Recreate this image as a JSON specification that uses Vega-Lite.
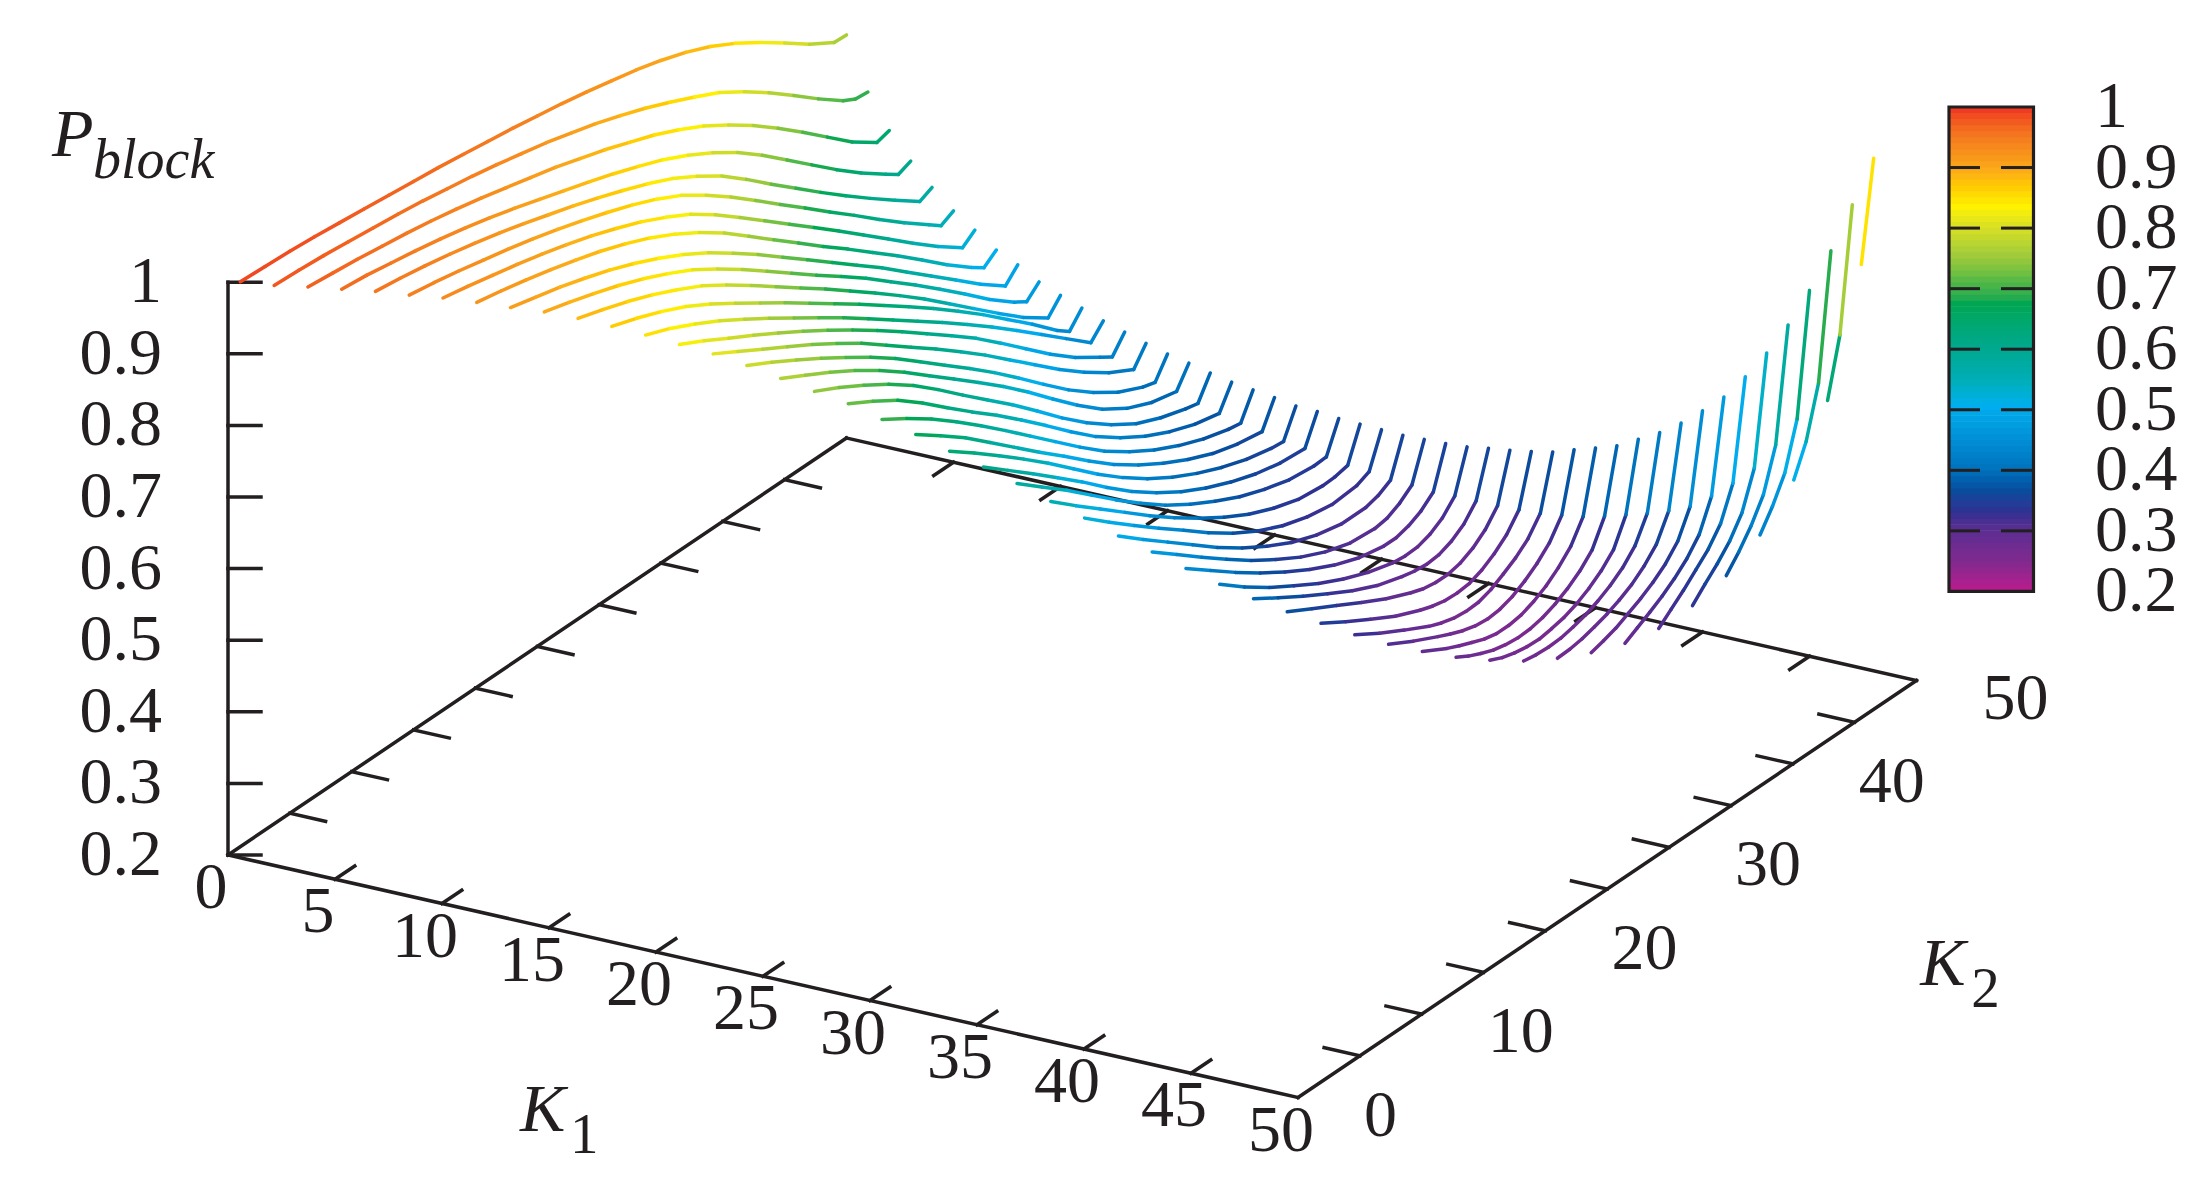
{"$schema":"https://vega.github.io/schema/vega-lite/v6.json","width":2212,"height":1201,"padding":0,"autosize":{"type":"fit","contains":"padding"},"background":"white","config":{"view":{"stroke":null},"text":{"font":"Liberation Serif","color":"#231f20"}},
"datasets":{
"surface":[
{"k1":0,"k2":1,"p":0.989},{"k1":0,"k2":3,"p":0.987},{"k1":0,"k2":5,"p":0.985},{"k1":0,"k2":7,"p":0.982},{"k1":0,"k2":9,"p":0.978},{"k1":0,"k2":11,"p":0.974},{"k1":0,"k2":13,"p":0.97},{"k1":0,"k2":15,"p":0.966},{"k1":0,"k2":17,"p":0.962},{"k1":0,"k2":19,"p":0.957},{"k1":0,"k2":21,"p":0.952},{"k1":0,"k2":23,"p":0.947},{"k1":0,"k2":25,"p":0.941},{"k1":0,"k2":27,"p":0.935},{"k1":0,"k2":29,"p":0.928},{"k1":0,"k2":31,"p":0.92},{"k1":0,"k2":33,"p":0.912},{"k1":0,"k2":35,"p":0.902},{"k1":0,"k2":37,"p":0.89},{"k1":0,"k2":39,"p":0.875},{"k1":0,"k2":41,"p":0.856},{"k1":0,"k2":43,"p":0.834},{"k1":0,"k2":45,"p":0.81},{"k1":0,"k2":47,"p":0.785},{"k1":0,"k2":49,"p":0.764},{"k1":0,"k2":50,"p":0.763},
{"k1":1,"k2":2,"p":0.979},{"k1":1,"k2":4,"p":0.977},{"k1":1,"k2":6,"p":0.974},{"k1":1,"k2":8,"p":0.97},{"k1":1,"k2":10,"p":0.966},{"k1":1,"k2":12,"p":0.962},{"k1":1,"k2":14,"p":0.957},{"k1":1,"k2":16,"p":0.951},{"k1":1,"k2":18,"p":0.945},{"k1":1,"k2":20,"p":0.938},{"k1":1,"k2":22,"p":0.93},{"k1":1,"k2":24,"p":0.922},{"k1":1,"k2":26,"p":0.912},{"k1":1,"k2":28,"p":0.902},{"k1":1,"k2":30,"p":0.89},{"k1":1,"k2":32,"p":0.877},{"k1":1,"k2":34,"p":0.862},{"k1":1,"k2":36,"p":0.846},{"k1":1,"k2":38,"p":0.829},{"k1":1,"k2":40,"p":0.807},{"k1":1,"k2":42,"p":0.782},{"k1":1,"k2":44,"p":0.755},{"k1":1,"k2":46,"p":0.727},{"k1":1,"k2":48,"p":0.701},{"k1":1,"k2":49,"p":0.692},{"k1":1,"k2":50,"p":0.69},
{"k1":2,"k2":3,"p":0.972},{"k1":2,"k2":5,"p":0.968},{"k1":2,"k2":7,"p":0.964},{"k1":2,"k2":9,"p":0.959},{"k1":2,"k2":11,"p":0.954},{"k1":2,"k2":13,"p":0.948},{"k1":2,"k2":15,"p":0.941},{"k1":2,"k2":17,"p":0.933},{"k1":2,"k2":19,"p":0.924},{"k1":2,"k2":21,"p":0.915},{"k1":2,"k2":23,"p":0.906},{"k1":2,"k2":25,"p":0.895},{"k1":2,"k2":27,"p":0.884},{"k1":2,"k2":29,"p":0.871},{"k1":2,"k2":31,"p":0.858},{"k1":2,"k2":33,"p":0.842},{"k1":2,"k2":35,"p":0.824},{"k1":2,"k2":37,"p":0.802},{"k1":2,"k2":39,"p":0.778},{"k1":2,"k2":41,"p":0.751},{"k1":2,"k2":43,"p":0.722},{"k1":2,"k2":45,"p":0.692},{"k1":2,"k2":47,"p":0.662},{"k1":2,"k2":49,"p":0.638},{"k1":2,"k2":50,"p":0.643},
{"k1":3,"k2":4,"p":0.964},{"k1":3,"k2":6,"p":0.96},{"k1":3,"k2":8,"p":0.954},{"k1":3,"k2":10,"p":0.948},{"k1":3,"k2":12,"p":0.941},{"k1":3,"k2":14,"p":0.933},{"k1":3,"k2":16,"p":0.924},{"k1":3,"k2":18,"p":0.914},{"k1":3,"k2":20,"p":0.903},{"k1":3,"k2":22,"p":0.892},{"k1":3,"k2":24,"p":0.881},{"k1":3,"k2":26,"p":0.869},{"k1":3,"k2":28,"p":0.856},{"k1":3,"k2":30,"p":0.842},{"k1":3,"k2":32,"p":0.825},{"k1":3,"k2":34,"p":0.805},{"k1":3,"k2":36,"p":0.782},{"k1":3,"k2":38,"p":0.755},{"k1":3,"k2":40,"p":0.725},{"k1":3,"k2":42,"p":0.695},{"k1":3,"k2":44,"p":0.665},{"k1":3,"k2":46,"p":0.637},{"k1":3,"k2":48,"p":0.612},{"k1":3,"k2":49,"p":0.6},{"k1":3,"k2":50,"p":0.607},
{"k1":4,"k2":5,"p":0.956},{"k1":4,"k2":7,"p":0.951},{"k1":4,"k2":9,"p":0.945},{"k1":4,"k2":11,"p":0.938},{"k1":4,"k2":13,"p":0.93},{"k1":4,"k2":15,"p":0.921},{"k1":4,"k2":17,"p":0.911},{"k1":4,"k2":19,"p":0.9},{"k1":4,"k2":21,"p":0.889},{"k1":4,"k2":23,"p":0.877},{"k1":4,"k2":25,"p":0.864},{"k1":4,"k2":27,"p":0.85},{"k1":4,"k2":29,"p":0.834},{"k1":4,"k2":31,"p":0.814},{"k1":4,"k2":33,"p":0.791},{"k1":4,"k2":35,"p":0.763},{"k1":4,"k2":37,"p":0.733},{"k1":4,"k2":39,"p":0.704},{"k1":4,"k2":41,"p":0.675},{"k1":4,"k2":43,"p":0.647},{"k1":4,"k2":45,"p":0.62},{"k1":4,"k2":47,"p":0.594},{"k1":4,"k2":49,"p":0.569},{"k1":4,"k2":50,"p":0.577},
{"k1":5,"k2":6,"p":0.946},{"k1":5,"k2":8,"p":0.94},{"k1":5,"k2":10,"p":0.933},{"k1":5,"k2":12,"p":0.925},{"k1":5,"k2":14,"p":0.917},{"k1":5,"k2":16,"p":0.908},{"k1":5,"k2":18,"p":0.898},{"k1":5,"k2":20,"p":0.887},{"k1":5,"k2":22,"p":0.875},{"k1":5,"k2":24,"p":0.862},{"k1":5,"k2":26,"p":0.847},{"k1":5,"k2":28,"p":0.829},{"k1":5,"k2":30,"p":0.806},{"k1":5,"k2":32,"p":0.78},{"k1":5,"k2":34,"p":0.752},{"k1":5,"k2":36,"p":0.723},{"k1":5,"k2":38,"p":0.695},{"k1":5,"k2":40,"p":0.666},{"k1":5,"k2":42,"p":0.638},{"k1":5,"k2":44,"p":0.609},{"k1":5,"k2":46,"p":0.581},{"k1":5,"k2":48,"p":0.555},{"k1":5,"k2":49,"p":0.542},{"k1":5,"k2":50,"p":0.551},
{"k1":6,"k2":7,"p":0.937},{"k1":6,"k2":9,"p":0.93},{"k1":6,"k2":11,"p":0.922},{"k1":6,"k2":13,"p":0.914},{"k1":6,"k2":15,"p":0.905},{"k1":6,"k2":17,"p":0.895},{"k1":6,"k2":19,"p":0.884},{"k1":6,"k2":21,"p":0.871},{"k1":6,"k2":23,"p":0.857},{"k1":6,"k2":25,"p":0.84},{"k1":6,"k2":27,"p":0.821},{"k1":6,"k2":29,"p":0.797},{"k1":6,"k2":31,"p":0.77},{"k1":6,"k2":33,"p":0.742},{"k1":6,"k2":35,"p":0.714},{"k1":6,"k2":37,"p":0.686},{"k1":6,"k2":39,"p":0.658},{"k1":6,"k2":41,"p":0.629},{"k1":6,"k2":43,"p":0.6},{"k1":6,"k2":45,"p":0.571},{"k1":6,"k2":47,"p":0.543},{"k1":6,"k2":49,"p":0.518},{"k1":6,"k2":50,"p":0.531},
{"k1":7,"k2":8,"p":0.926},{"k1":7,"k2":10,"p":0.919},{"k1":7,"k2":12,"p":0.911},{"k1":7,"k2":14,"p":0.902},{"k1":7,"k2":16,"p":0.892},{"k1":7,"k2":18,"p":0.881},{"k1":7,"k2":20,"p":0.868},{"k1":7,"k2":22,"p":0.853},{"k1":7,"k2":24,"p":0.835},{"k1":7,"k2":26,"p":0.814},{"k1":7,"k2":28,"p":0.79},{"k1":7,"k2":30,"p":0.762},{"k1":7,"k2":32,"p":0.734},{"k1":7,"k2":34,"p":0.706},{"k1":7,"k2":36,"p":0.678},{"k1":7,"k2":38,"p":0.651},{"k1":7,"k2":40,"p":0.623},{"k1":7,"k2":42,"p":0.595},{"k1":7,"k2":44,"p":0.566},{"k1":7,"k2":46,"p":0.536},{"k1":7,"k2":48,"p":0.509},{"k1":7,"k2":49,"p":0.497},{"k1":7,"k2":50,"p":0.51},
{"k1":8,"k2":9,"p":0.914},{"k1":8,"k2":11,"p":0.905},{"k1":8,"k2":13,"p":0.896},{"k1":8,"k2":15,"p":0.885},{"k1":8,"k2":17,"p":0.873},{"k1":8,"k2":19,"p":0.859},{"k1":8,"k2":21,"p":0.843},{"k1":8,"k2":23,"p":0.825},{"k1":8,"k2":25,"p":0.804},{"k1":8,"k2":27,"p":0.78},{"k1":8,"k2":29,"p":0.755},{"k1":8,"k2":31,"p":0.728},{"k1":8,"k2":33,"p":0.701},{"k1":8,"k2":35,"p":0.674},{"k1":8,"k2":37,"p":0.647},{"k1":8,"k2":39,"p":0.62},{"k1":8,"k2":41,"p":0.591},{"k1":8,"k2":43,"p":0.562},{"k1":8,"k2":45,"p":0.533},{"k1":8,"k2":47,"p":0.504},{"k1":8,"k2":49,"p":0.478},{"k1":8,"k2":50,"p":0.496},
{"k1":9,"k2":10,"p":0.903},{"k1":9,"k2":12,"p":0.893},{"k1":9,"k2":14,"p":0.882},{"k1":9,"k2":16,"p":0.87},{"k1":9,"k2":18,"p":0.856},{"k1":9,"k2":20,"p":0.84},{"k1":9,"k2":22,"p":0.822},{"k1":9,"k2":24,"p":0.8},{"k1":9,"k2":26,"p":0.776},{"k1":9,"k2":28,"p":0.75},{"k1":9,"k2":30,"p":0.724},{"k1":9,"k2":32,"p":0.698},{"k1":9,"k2":34,"p":0.673},{"k1":9,"k2":36,"p":0.647},{"k1":9,"k2":38,"p":0.619},{"k1":9,"k2":40,"p":0.591},{"k1":9,"k2":42,"p":0.562},{"k1":9,"k2":44,"p":0.532},{"k1":9,"k2":46,"p":0.501},{"k1":9,"k2":48,"p":0.474},{"k1":9,"k2":49,"p":0.463},{"k1":9,"k2":50,"p":0.479},
{"k1":10,"k2":11,"p":0.889},{"k1":10,"k2":13,"p":0.878},{"k1":10,"k2":15,"p":0.866},{"k1":10,"k2":17,"p":0.852},{"k1":10,"k2":19,"p":0.836},{"k1":10,"k2":21,"p":0.818},{"k1":10,"k2":23,"p":0.796},{"k1":10,"k2":25,"p":0.772},{"k1":10,"k2":27,"p":0.747},{"k1":10,"k2":29,"p":0.722},{"k1":10,"k2":31,"p":0.697},{"k1":10,"k2":33,"p":0.671},{"k1":10,"k2":35,"p":0.645},{"k1":10,"k2":37,"p":0.618},{"k1":10,"k2":39,"p":0.59},{"k1":10,"k2":41,"p":0.56},{"k1":10,"k2":43,"p":0.53},{"k1":10,"k2":45,"p":0.5},{"k1":10,"k2":47,"p":0.471},{"k1":10,"k2":49,"p":0.447},{"k1":10,"k2":50,"p":0.467},
{"k1":11,"k2":12,"p":0.873},{"k1":11,"k2":14,"p":0.861},{"k1":11,"k2":16,"p":0.847},{"k1":11,"k2":18,"p":0.831},{"k1":11,"k2":20,"p":0.811},{"k1":11,"k2":22,"p":0.789},{"k1":11,"k2":24,"p":0.766},{"k1":11,"k2":26,"p":0.743},{"k1":11,"k2":28,"p":0.719},{"k1":11,"k2":30,"p":0.695},{"k1":11,"k2":32,"p":0.671},{"k1":11,"k2":34,"p":0.646},{"k1":11,"k2":36,"p":0.621},{"k1":11,"k2":38,"p":0.595},{"k1":11,"k2":40,"p":0.568},{"k1":11,"k2":42,"p":0.54},{"k1":11,"k2":44,"p":0.51},{"k1":11,"k2":46,"p":0.48},{"k1":11,"k2":48,"p":0.448},{"k1":11,"k2":49,"p":0.435},{"k1":11,"k2":50,"p":0.456},
{"k1":12,"k2":13,"p":0.856},{"k1":12,"k2":15,"p":0.842},{"k1":12,"k2":17,"p":0.825},{"k1":12,"k2":19,"p":0.806},{"k1":12,"k2":21,"p":0.785},{"k1":12,"k2":23,"p":0.763},{"k1":12,"k2":25,"p":0.74},{"k1":12,"k2":27,"p":0.717},{"k1":12,"k2":29,"p":0.694},{"k1":12,"k2":31,"p":0.669},{"k1":12,"k2":33,"p":0.644},{"k1":12,"k2":35,"p":0.619},{"k1":12,"k2":37,"p":0.594},{"k1":12,"k2":39,"p":0.568},{"k1":12,"k2":41,"p":0.541},{"k1":12,"k2":43,"p":0.513},{"k1":12,"k2":45,"p":0.484},{"k1":12,"k2":47,"p":0.455},{"k1":12,"k2":49,"p":0.426},{"k1":12,"k2":50,"p":0.445},
{"k1":13,"k2":14,"p":0.838},{"k1":13,"k2":16,"p":0.82},{"k1":13,"k2":18,"p":0.8},{"k1":13,"k2":20,"p":0.781},{"k1":13,"k2":22,"p":0.761},{"k1":13,"k2":24,"p":0.74},{"k1":13,"k2":26,"p":0.718},{"k1":13,"k2":28,"p":0.695},{"k1":13,"k2":30,"p":0.671},{"k1":13,"k2":32,"p":0.646},{"k1":13,"k2":34,"p":0.62},{"k1":13,"k2":36,"p":0.594},{"k1":13,"k2":38,"p":0.567},{"k1":13,"k2":40,"p":0.537},{"k1":13,"k2":42,"p":0.506},{"k1":13,"k2":44,"p":0.475},{"k1":13,"k2":46,"p":0.447},{"k1":13,"k2":48,"p":0.424},{"k1":13,"k2":49,"p":0.413},{"k1":13,"k2":50,"p":0.436},
{"k1":14,"k2":15,"p":0.82},{"k1":14,"k2":17,"p":0.8},{"k1":14,"k2":19,"p":0.78},{"k1":14,"k2":21,"p":0.76},{"k1":14,"k2":23,"p":0.74},{"k1":14,"k2":25,"p":0.718},{"k1":14,"k2":27,"p":0.695},{"k1":14,"k2":29,"p":0.669},{"k1":14,"k2":31,"p":0.643},{"k1":14,"k2":33,"p":0.617},{"k1":14,"k2":35,"p":0.59},{"k1":14,"k2":37,"p":0.562},{"k1":14,"k2":39,"p":0.532},{"k1":14,"k2":41,"p":0.502},{"k1":14,"k2":43,"p":0.472},{"k1":14,"k2":45,"p":0.445},{"k1":14,"k2":47,"p":0.421},{"k1":14,"k2":49,"p":0.402},{"k1":14,"k2":50,"p":0.427},
{"k1":15,"k2":16,"p":0.799},{"k1":15,"k2":18,"p":0.78},{"k1":15,"k2":20,"p":0.76},{"k1":15,"k2":22,"p":0.739},{"k1":15,"k2":24,"p":0.717},{"k1":15,"k2":26,"p":0.694},{"k1":15,"k2":28,"p":0.669},{"k1":15,"k2":30,"p":0.641},{"k1":15,"k2":32,"p":0.613},{"k1":15,"k2":34,"p":0.585},{"k1":15,"k2":36,"p":0.556},{"k1":15,"k2":38,"p":0.525},{"k1":15,"k2":40,"p":0.493},{"k1":15,"k2":42,"p":0.462},{"k1":15,"k2":44,"p":0.435},{"k1":15,"k2":46,"p":0.412},{"k1":15,"k2":48,"p":0.396},{"k1":15,"k2":49,"p":0.391},{"k1":15,"k2":50,"p":0.419},
{"k1":16,"k2":17,"p":0.776},{"k1":16,"k2":19,"p":0.757},{"k1":16,"k2":21,"p":0.738},{"k1":16,"k2":23,"p":0.717},{"k1":16,"k2":25,"p":0.694},{"k1":16,"k2":27,"p":0.668},{"k1":16,"k2":29,"p":0.64},{"k1":16,"k2":31,"p":0.612},{"k1":16,"k2":33,"p":0.584},{"k1":16,"k2":35,"p":0.555},{"k1":16,"k2":37,"p":0.524},{"k1":16,"k2":39,"p":0.491},{"k1":16,"k2":41,"p":0.459},{"k1":16,"k2":43,"p":0.43},{"k1":16,"k2":45,"p":0.408},{"k1":16,"k2":47,"p":0.393},{"k1":16,"k2":49,"p":0.385},{"k1":16,"k2":50,"p":0.413},
{"k1":17,"k2":18,"p":0.753},{"k1":17,"k2":20,"p":0.735},{"k1":17,"k2":22,"p":0.715},{"k1":17,"k2":24,"p":0.693},{"k1":17,"k2":26,"p":0.668},{"k1":17,"k2":28,"p":0.639},{"k1":17,"k2":30,"p":0.608},{"k1":17,"k2":32,"p":0.578},{"k1":17,"k2":34,"p":0.548},{"k1":17,"k2":36,"p":0.516},{"k1":17,"k2":38,"p":0.483},{"k1":17,"k2":40,"p":0.453},{"k1":17,"k2":42,"p":0.427},{"k1":17,"k2":44,"p":0.405},{"k1":17,"k2":46,"p":0.39},{"k1":17,"k2":48,"p":0.379},{"k1":17,"k2":49,"p":0.375},{"k1":17,"k2":50,"p":0.406},
{"k1":18,"k2":19,"p":0.731},{"k1":18,"k2":21,"p":0.711},{"k1":18,"k2":23,"p":0.689},{"k1":18,"k2":25,"p":0.662},{"k1":18,"k2":27,"p":0.632},{"k1":18,"k2":29,"p":0.603},{"k1":18,"k2":31,"p":0.575},{"k1":18,"k2":33,"p":0.545},{"k1":18,"k2":35,"p":0.514},{"k1":18,"k2":37,"p":0.482},{"k1":18,"k2":39,"p":0.452},{"k1":18,"k2":41,"p":0.427},{"k1":18,"k2":43,"p":0.406},{"k1":18,"k2":45,"p":0.389},{"k1":18,"k2":47,"p":0.376},{"k1":18,"k2":49,"p":0.368},{"k1":18,"k2":50,"p":0.4},
{"k1":19,"k2":20,"p":0.704},{"k1":19,"k2":22,"p":0.682},{"k1":19,"k2":24,"p":0.658},{"k1":19,"k2":26,"p":0.631},{"k1":19,"k2":28,"p":0.602},{"k1":19,"k2":30,"p":0.572},{"k1":19,"k2":32,"p":0.541},{"k1":19,"k2":34,"p":0.51},{"k1":19,"k2":36,"p":0.479},{"k1":19,"k2":38,"p":0.45},{"k1":19,"k2":40,"p":0.426},{"k1":19,"k2":42,"p":0.405},{"k1":19,"k2":44,"p":0.388},{"k1":19,"k2":46,"p":0.374},{"k1":19,"k2":48,"p":0.364},{"k1":19,"k2":49,"p":0.361},{"k1":19,"k2":50,"p":0.396},
{"k1":20,"k2":21,"p":0.678},{"k1":20,"k2":23,"p":0.653},{"k1":20,"k2":25,"p":0.627},{"k1":20,"k2":27,"p":0.597},{"k1":20,"k2":29,"p":0.567},{"k1":20,"k2":31,"p":0.537},{"k1":20,"k2":33,"p":0.508},{"k1":20,"k2":35,"p":0.478},{"k1":20,"k2":37,"p":0.45},{"k1":20,"k2":39,"p":0.426},{"k1":20,"k2":41,"p":0.405},{"k1":20,"k2":43,"p":0.387},{"k1":20,"k2":45,"p":0.372},{"k1":20,"k2":47,"p":0.362},{"k1":20,"k2":49,"p":0.356},{"k1":20,"k2":50,"p":0.392},
{"k1":21,"k2":22,"p":0.65},{"k1":21,"k2":24,"p":0.624},{"k1":21,"k2":26,"p":0.597},{"k1":21,"k2":28,"p":0.569},{"k1":21,"k2":30,"p":0.54},{"k1":21,"k2":32,"p":0.509},{"k1":21,"k2":34,"p":0.478},{"k1":21,"k2":36,"p":0.45},{"k1":21,"k2":38,"p":0.425},{"k1":21,"k2":40,"p":0.404},{"k1":21,"k2":42,"p":0.386},{"k1":21,"k2":44,"p":0.371},{"k1":21,"k2":46,"p":0.359},{"k1":21,"k2":48,"p":0.351},{"k1":21,"k2":49,"p":0.349},{"k1":21,"k2":50,"p":0.387},
{"k1":22,"k2":23,"p":0.623},{"k1":22,"k2":25,"p":0.595},{"k1":22,"k2":27,"p":0.567},{"k1":22,"k2":29,"p":0.538},{"k1":22,"k2":31,"p":0.509},{"k1":22,"k2":33,"p":0.478},{"k1":22,"k2":35,"p":0.449},{"k1":22,"k2":37,"p":0.424},{"k1":22,"k2":39,"p":0.402},{"k1":22,"k2":41,"p":0.384},{"k1":22,"k2":43,"p":0.369},{"k1":22,"k2":45,"p":0.357},{"k1":22,"k2":47,"p":0.349},{"k1":22,"k2":49,"p":0.346},{"k1":22,"k2":50,"p":0.386},
{"k1":23,"k2":24,"p":0.595},{"k1":23,"k2":26,"p":0.567},{"k1":23,"k2":28,"p":0.539},{"k1":23,"k2":30,"p":0.509},{"k1":23,"k2":32,"p":0.479},{"k1":23,"k2":34,"p":0.451},{"k1":23,"k2":36,"p":0.425},{"k1":23,"k2":38,"p":0.403},{"k1":23,"k2":40,"p":0.384},{"k1":23,"k2":42,"p":0.367},{"k1":23,"k2":44,"p":0.354},{"k1":23,"k2":46,"p":0.344},{"k1":23,"k2":48,"p":0.34},{"k1":23,"k2":49,"p":0.341},{"k1":23,"k2":50,"p":0.383},
{"k1":24,"k2":25,"p":0.565},{"k1":24,"k2":27,"p":0.536},{"k1":24,"k2":29,"p":0.508},{"k1":24,"k2":31,"p":0.48},{"k1":24,"k2":33,"p":0.452},{"k1":24,"k2":35,"p":0.426},{"k1":24,"k2":37,"p":0.402},{"k1":24,"k2":39,"p":0.38},{"k1":24,"k2":41,"p":0.361},{"k1":24,"k2":43,"p":0.346},{"k1":24,"k2":45,"p":0.335},{"k1":24,"k2":47,"p":0.331},{"k1":24,"k2":48,"p":0.332},{"k1":24,"k2":49,"p":0.336},{"k1":24,"k2":50,"p":0.382},
{"k1":25,"k2":26,"p":0.537},{"k1":25,"k2":28,"p":0.508},{"k1":25,"k2":30,"p":0.48},{"k1":25,"k2":32,"p":0.453},{"k1":25,"k2":34,"p":0.427},{"k1":25,"k2":36,"p":0.4},{"k1":25,"k2":38,"p":0.376},{"k1":25,"k2":40,"p":0.356},{"k1":25,"k2":42,"p":0.34},{"k1":25,"k2":44,"p":0.329},{"k1":25,"k2":46,"p":0.323},{"k1":25,"k2":48,"p":0.326},{"k1":25,"k2":49,"p":0.334},{"k1":25,"k2":50,"p":0.381},
{"k1":26,"k2":27,"p":0.507},{"k1":26,"k2":29,"p":0.479},{"k1":26,"k2":31,"p":0.452},{"k1":26,"k2":33,"p":0.425},{"k1":26,"k2":35,"p":0.398},{"k1":26,"k2":37,"p":0.374},{"k1":26,"k2":39,"p":0.353},{"k1":26,"k2":41,"p":0.335},{"k1":26,"k2":43,"p":0.322},{"k1":26,"k2":45,"p":0.314},{"k1":26,"k2":47,"p":0.314},{"k1":26,"k2":48,"p":0.319},{"k1":26,"k2":49,"p":0.329},{"k1":26,"k2":50,"p":0.38},
{"k1":27,"k2":28,"p":0.48},{"k1":27,"k2":30,"p":0.453},{"k1":27,"k2":32,"p":0.426},{"k1":27,"k2":34,"p":0.4},{"k1":27,"k2":36,"p":0.375},{"k1":27,"k2":38,"p":0.353},{"k1":27,"k2":40,"p":0.333},{"k1":27,"k2":42,"p":0.317},{"k1":27,"k2":44,"p":0.306},{"k1":27,"k2":46,"p":0.303},{"k1":27,"k2":47,"p":0.306},{"k1":27,"k2":48,"p":0.315},{"k1":27,"k2":49,"p":0.329},{"k1":27,"k2":50,"p":0.381},
{"k1":28,"k2":29,"p":0.452},{"k1":28,"k2":31,"p":0.426},{"k1":28,"k2":33,"p":0.4},{"k1":28,"k2":35,"p":0.376},{"k1":28,"k2":37,"p":0.354},{"k1":28,"k2":39,"p":0.334},{"k1":28,"k2":41,"p":0.317},{"k1":28,"k2":43,"p":0.304},{"k1":28,"k2":45,"p":0.297},{"k1":28,"k2":46,"p":0.297},{"k1":28,"k2":47,"p":0.302},{"k1":28,"k2":48,"p":0.311},{"k1":28,"k2":49,"p":0.326},{"k1":28,"k2":50,"p":0.382},
{"k1":29,"k2":30,"p":0.425},{"k1":29,"k2":32,"p":0.398},{"k1":29,"k2":34,"p":0.374},{"k1":29,"k2":36,"p":0.353},{"k1":29,"k2":38,"p":0.333},{"k1":29,"k2":40,"p":0.316},{"k1":29,"k2":42,"p":0.302},{"k1":29,"k2":44,"p":0.292},{"k1":29,"k2":45,"p":0.29},{"k1":29,"k2":46,"p":0.291},{"k1":29,"k2":47,"p":0.297},{"k1":29,"k2":48,"p":0.308},{"k1":29,"k2":49,"p":0.327},{"k1":29,"k2":50,"p":0.384},
{"k1":30,"k2":31,"p":0.4},{"k1":30,"k2":33,"p":0.378},{"k1":30,"k2":35,"p":0.357},{"k1":30,"k2":37,"p":0.337},{"k1":30,"k2":39,"p":0.318},{"k1":30,"k2":41,"p":0.302},{"k1":30,"k2":43,"p":0.291},{"k1":30,"k2":44,"p":0.287},{"k1":30,"k2":45,"p":0.285},{"k1":30,"k2":46,"p":0.287},{"k1":30,"k2":47,"p":0.294},{"k1":30,"k2":48,"p":0.306},{"k1":30,"k2":49,"p":0.327},{"k1":30,"k2":50,"p":0.389},
{"k1":31,"k2":32,"p":0.377},{"k1":31,"k2":34,"p":0.358},{"k1":31,"k2":36,"p":0.339},{"k1":31,"k2":38,"p":0.32},{"k1":31,"k2":40,"p":0.302},{"k1":31,"k2":42,"p":0.287},{"k1":31,"k2":43,"p":0.281},{"k1":31,"k2":44,"p":0.278},{"k1":31,"k2":45,"p":0.278},{"k1":31,"k2":46,"p":0.282},{"k1":31,"k2":47,"p":0.291},{"k1":31,"k2":48,"p":0.305},{"k1":31,"k2":49,"p":0.327},{"k1":31,"k2":50,"p":0.393},
{"k1":32,"k2":33,"p":0.356},{"k1":32,"k2":35,"p":0.335},{"k1":32,"k2":37,"p":0.315},{"k1":32,"k2":39,"p":0.296},{"k1":32,"k2":41,"p":0.281},{"k1":32,"k2":42,"p":0.275},{"k1":32,"k2":43,"p":0.271},{"k1":32,"k2":44,"p":0.27},{"k1":32,"k2":45,"p":0.272},{"k1":32,"k2":46,"p":0.279},{"k1":32,"k2":47,"p":0.29},{"k1":32,"k2":48,"p":0.305},{"k1":32,"k2":49,"p":0.328},{"k1":32,"k2":50,"p":0.398},
{"k1":33,"k2":34,"p":0.335},{"k1":33,"k2":36,"p":0.314},{"k1":33,"k2":38,"p":0.295},{"k1":33,"k2":40,"p":0.277},{"k1":33,"k2":41,"p":0.27},{"k1":33,"k2":42,"p":0.265},{"k1":33,"k2":43,"p":0.263},{"k1":33,"k2":44,"p":0.264},{"k1":33,"k2":45,"p":0.27},{"k1":33,"k2":46,"p":0.28},{"k1":33,"k2":47,"p":0.291},{"k1":33,"k2":48,"p":0.306},{"k1":33,"k2":49,"p":0.33},{"k1":33,"k2":50,"p":0.404},
{"k1":34,"k2":35,"p":0.317},{"k1":34,"k2":37,"p":0.298},{"k1":34,"k2":39,"p":0.281},{"k1":34,"k2":40,"p":0.273},{"k1":34,"k2":41,"p":0.266},{"k1":34,"k2":42,"p":0.261},{"k1":34,"k2":43,"p":0.259},{"k1":34,"k2":44,"p":0.261},{"k1":34,"k2":45,"p":0.267},{"k1":34,"k2":46,"p":0.277},{"k1":34,"k2":47,"p":0.29},{"k1":34,"k2":48,"p":0.307},{"k1":34,"k2":49,"p":0.334},{"k1":34,"k2":50,"p":0.414},
{"k1":35,"k2":36,"p":0.302},{"k1":35,"k2":38,"p":0.283},{"k1":35,"k2":39,"p":0.275},{"k1":35,"k2":40,"p":0.268},{"k1":35,"k2":41,"p":0.261},{"k1":35,"k2":42,"p":0.257},{"k1":35,"k2":43,"p":0.257},{"k1":35,"k2":44,"p":0.26},{"k1":35,"k2":45,"p":0.267},{"k1":35,"k2":46,"p":0.277},{"k1":35,"k2":47,"p":0.291},{"k1":35,"k2":48,"p":0.309},{"k1":35,"k2":49,"p":0.339},{"k1":35,"k2":50,"p":0.423},
{"k1":36,"k2":37,"p":0.289},{"k1":36,"k2":38,"p":0.279},{"k1":36,"k2":39,"p":0.271},{"k1":36,"k2":40,"p":0.264},{"k1":36,"k2":41,"p":0.26},{"k1":36,"k2":42,"p":0.258},{"k1":36,"k2":43,"p":0.259},{"k1":36,"k2":44,"p":0.263},{"k1":36,"k2":45,"p":0.27},{"k1":36,"k2":46,"p":0.28},{"k1":36,"k2":47,"p":0.293},{"k1":36,"k2":48,"p":0.311},{"k1":36,"k2":49,"p":0.346},{"k1":36,"k2":50,"p":0.433},
{"k1":37,"k2":38,"p":0.28},{"k1":37,"k2":39,"p":0.272},{"k1":37,"k2":40,"p":0.267},{"k1":37,"k2":41,"p":0.264},{"k1":37,"k2":42,"p":0.263},{"k1":37,"k2":43,"p":0.266},{"k1":37,"k2":44,"p":0.27},{"k1":37,"k2":45,"p":0.277},{"k1":37,"k2":46,"p":0.287},{"k1":37,"k2":47,"p":0.3},{"k1":37,"k2":48,"p":0.318},{"k1":37,"k2":49,"p":0.355},{"k1":37,"k2":50,"p":0.449},
{"k1":38,"k2":39,"p":0.274},{"k1":38,"k2":40,"p":0.271},{"k1":38,"k2":41,"p":0.27},{"k1":38,"k2":42,"p":0.271},{"k1":38,"k2":43,"p":0.275},{"k1":38,"k2":44,"p":0.28},{"k1":38,"k2":45,"p":0.288},{"k1":38,"k2":46,"p":0.298},{"k1":38,"k2":47,"p":0.311},{"k1":38,"k2":48,"p":0.33},{"k1":38,"k2":49,"p":0.364},{"k1":38,"k2":50,"p":0.465},
{"k1":39,"k2":40,"p":0.273},{"k1":39,"k2":41,"p":0.274},{"k1":39,"k2":42,"p":0.277},{"k1":39,"k2":43,"p":0.282},{"k1":39,"k2":44,"p":0.288},{"k1":39,"k2":45,"p":0.296},{"k1":39,"k2":46,"p":0.306},{"k1":39,"k2":47,"p":0.32},{"k1":39,"k2":48,"p":0.339},{"k1":39,"k2":49,"p":0.374},{"k1":39,"k2":50,"p":0.485},
{"k1":40,"k2":41,"p":0.276},{"k1":40,"k2":42,"p":0.281},{"k1":40,"k2":43,"p":0.287},{"k1":40,"k2":44,"p":0.296},{"k1":40,"k2":45,"p":0.305},{"k1":40,"k2":46,"p":0.316},{"k1":40,"k2":47,"p":0.33},{"k1":40,"k2":48,"p":0.35},{"k1":40,"k2":49,"p":0.387},{"k1":40,"k2":50,"p":0.509},
{"k1":41,"k2":42,"p":0.284},{"k1":41,"k2":43,"p":0.294},{"k1":41,"k2":44,"p":0.304},{"k1":41,"k2":45,"p":0.315},{"k1":41,"k2":46,"p":0.328},{"k1":41,"k2":47,"p":0.344},{"k1":41,"k2":48,"p":0.366},{"k1":41,"k2":49,"p":0.408},{"k1":41,"k2":50,"p":0.535},
{"k1":42,"k2":43,"p":0.3},{"k1":42,"k2":44,"p":0.315},{"k1":42,"k2":45,"p":0.33},{"k1":42,"k2":46,"p":0.347},{"k1":42,"k2":47,"p":0.364},{"k1":42,"k2":48,"p":0.388},{"k1":42,"k2":49,"p":0.433},{"k1":42,"k2":50,"p":0.57},
{"k1":43,"k2":44,"p":0.327},{"k1":43,"k2":45,"p":0.345},{"k1":43,"k2":46,"p":0.362},{"k1":43,"k2":47,"p":0.382},{"k1":43,"k2":48,"p":0.41},{"k1":43,"k2":49,"p":0.461},{"k1":43,"k2":50,"p":0.61},
{"k1":44,"k2":45,"p":0.364},{"k1":44,"k2":46,"p":0.385},{"k1":44,"k2":47,"p":0.41},{"k1":44,"k2":48,"p":0.442},{"k1":44,"k2":49,"p":0.5},{"k1":44,"k2":50,"p":0.656},
{"k1":45,"k2":46,"p":0.416},{"k1":45,"k2":47,"p":0.444},{"k1":45,"k2":48,"p":0.479},{"k1":45,"k2":49,"p":0.543},{"k1":45,"k2":50,"p":0.711},
{"k1":46,"k2":47,"p":0.488},{"k1":46,"k2":48,"p":0.53},{"k1":46,"k2":49,"p":0.6},{"k1":46,"k2":50,"p":0.773},
{"k1":47,"k2":48,"p":0.594},{"k1":47,"k2":49,"p":0.674},{"k1":47,"k2":50,"p":0.844},
{"k1":48,"k2":49,"p":0.779},{"k1":48,"k2":50,"p":0.916}
],
"frame":[
{"k1":0,"k2":0,"p":0.2,"k1e":50,"k2e":0,"pe":0.2},{"k1":50,"k2":0,"p":0.2,"k1e":50,"k2e":50,"pe":0.2},{"k1":50,"k2":50,"p":0.2,"k1e":0,"k2e":50,"pe":0.2},{"k1":0,"k2":50,"p":0.2,"k1e":0,"k2e":0,"pe":0.2},{"k1":0,"k2":0,"p":0.2,"k1e":0,"k2e":0,"pe":1},
{"k1":0,"k2":0,"p":0.2,"k1e":1.154,"k2e":0.671,"pe":0.2},{"k1":0,"k2":0,"p":0.3,"k1e":1.154,"k2e":0.671,"pe":0.3},{"k1":0,"k2":0,"p":0.4,"k1e":1.154,"k2e":0.671,"pe":0.4},{"k1":0,"k2":0,"p":0.5,"k1e":1.154,"k2e":0.671,"pe":0.5},{"k1":0,"k2":0,"p":0.6,"k1e":1.154,"k2e":0.671,"pe":0.6},{"k1":0,"k2":0,"p":0.7,"k1e":1.154,"k2e":0.671,"pe":0.7},{"k1":0,"k2":0,"p":0.8,"k1e":1.154,"k2e":0.671,"pe":0.8},{"k1":0,"k2":0,"p":0.9,"k1e":1.154,"k2e":0.671,"pe":0.9},{"k1":0,"k2":0,"p":1,"k1e":1.154,"k2e":0.671,"pe":1},
{"k1":5,"k2":0,"p":0.2,"k1e":5,"k2e":1.6,"pe":0.2},{"k1":10,"k2":0,"p":0.2,"k1e":10,"k2e":1.6,"pe":0.2},{"k1":15,"k2":0,"p":0.2,"k1e":15,"k2e":1.6,"pe":0.2},{"k1":20,"k2":0,"p":0.2,"k1e":20,"k2e":1.6,"pe":0.2},{"k1":25,"k2":0,"p":0.2,"k1e":25,"k2e":1.6,"pe":0.2},{"k1":30,"k2":0,"p":0.2,"k1e":30,"k2e":1.6,"pe":0.2},{"k1":35,"k2":0,"p":0.2,"k1e":35,"k2e":1.6,"pe":0.2},{"k1":40,"k2":0,"p":0.2,"k1e":40,"k2e":1.6,"pe":0.2},{"k1":45,"k2":0,"p":0.2,"k1e":45,"k2e":1.6,"pe":0.2},
{"k1":5,"k2":50,"p":0.2,"k1e":5,"k2e":48.4,"pe":0.2},{"k1":10,"k2":50,"p":0.2,"k1e":10,"k2e":48.4,"pe":0.2},{"k1":15,"k2":50,"p":0.2,"k1e":15,"k2e":48.4,"pe":0.2},{"k1":20,"k2":50,"p":0.2,"k1e":20,"k2e":48.4,"pe":0.2},{"k1":25,"k2":50,"p":0.2,"k1e":25,"k2e":48.4,"pe":0.2},{"k1":30,"k2":50,"p":0.2,"k1e":30,"k2e":48.4,"pe":0.2},{"k1":35,"k2":50,"p":0.2,"k1e":35,"k2e":48.4,"pe":0.2},{"k1":40,"k2":50,"p":0.2,"k1e":40,"k2e":48.4,"pe":0.2},{"k1":45,"k2":50,"p":0.2,"k1e":45,"k2e":48.4,"pe":0.2},
{"k1":0,"k2":5,"p":0.2,"k1e":1.67,"k2e":5,"pe":0.2},{"k1":0,"k2":10,"p":0.2,"k1e":1.67,"k2e":10,"pe":0.2},{"k1":0,"k2":15,"p":0.2,"k1e":1.67,"k2e":15,"pe":0.2},{"k1":0,"k2":20,"p":0.2,"k1e":1.67,"k2e":20,"pe":0.2},{"k1":0,"k2":25,"p":0.2,"k1e":1.67,"k2e":25,"pe":0.2},{"k1":0,"k2":30,"p":0.2,"k1e":1.67,"k2e":30,"pe":0.2},{"k1":0,"k2":35,"p":0.2,"k1e":1.67,"k2e":35,"pe":0.2},{"k1":0,"k2":40,"p":0.2,"k1e":1.67,"k2e":40,"pe":0.2},{"k1":0,"k2":45,"p":0.2,"k1e":1.67,"k2e":45,"pe":0.2},
{"k1":50,"k2":5,"p":0.2,"k1e":48.33,"k2e":5,"pe":0.2},{"k1":50,"k2":10,"p":0.2,"k1e":48.33,"k2e":10,"pe":0.2},{"k1":50,"k2":15,"p":0.2,"k1e":48.33,"k2e":15,"pe":0.2},{"k1":50,"k2":20,"p":0.2,"k1e":48.33,"k2e":20,"pe":0.2},{"k1":50,"k2":25,"p":0.2,"k1e":48.33,"k2e":25,"pe":0.2},{"k1":50,"k2":30,"p":0.2,"k1e":48.33,"k2e":30,"pe":0.2},{"k1":50,"k2":35,"p":0.2,"k1e":48.33,"k2e":35,"pe":0.2},{"k1":50,"k2":40,"p":0.2,"k1e":48.33,"k2e":40,"pe":0.2},{"k1":50,"k2":45,"p":0.2,"k1e":48.33,"k2e":45,"pe":0.2}
],
"k1labels":[{"k1":0,"k2":0,"p":0.2,"label":"0"},{"k1":5,"k2":0,"p":0.2,"label":"5"},{"k1":10,"k2":0,"p":0.2,"label":"10"},{"k1":15,"k2":0,"p":0.2,"label":"15"},{"k1":20,"k2":0,"p":0.2,"label":"20"},{"k1":25,"k2":0,"p":0.2,"label":"25"},{"k1":30,"k2":0,"p":0.2,"label":"30"},{"k1":35,"k2":0,"p":0.2,"label":"35"},{"k1":40,"k2":0,"p":0.2,"label":"40"},{"k1":45,"k2":0,"p":0.2,"label":"45"},{"k1":50,"k2":0,"p":0.2,"label":"50"}],
"k2labels":[{"k1":50,"k2":0,"p":0.2,"label":"0"},{"k1":50,"k2":10,"p":0.2,"label":"10"},{"k1":50,"k2":20,"p":0.2,"label":"20"},{"k1":50,"k2":30,"p":0.2,"label":"30"},{"k1":50,"k2":40,"p":0.2,"label":"40"},{"k1":50,"k2":50,"p":0.2,"label":"50"}],
"plabels":[{"k1":0,"k2":0,"p":0.2,"label":"0.2"},{"k1":0,"k2":0,"p":0.3,"label":"0.3"},{"k1":0,"k2":0,"p":0.4,"label":"0.4"},{"k1":0,"k2":0,"p":0.5,"label":"0.5"},{"k1":0,"k2":0,"p":0.6,"label":"0.6"},{"k1":0,"k2":0,"p":0.7,"label":"0.7"},{"k1":0,"k2":0,"p":0.8,"label":"0.8"},{"k1":0,"k2":0,"p":0.9,"label":"0.9"},{"k1":0,"k2":0,"p":1,"label":"1"}],
"cbcells":[{"p":0.2},{"p":0.21},{"p":0.22},{"p":0.23},{"p":0.24},{"p":0.25},{"p":0.26},{"p":0.27},{"p":0.28},{"p":0.29},{"p":0.3},{"p":0.31},{"p":0.32},{"p":0.33},{"p":0.34},{"p":0.35},{"p":0.36},{"p":0.37},{"p":0.38},{"p":0.39},{"p":0.4},{"p":0.41},{"p":0.42},{"p":0.43},{"p":0.44},{"p":0.45},{"p":0.46},{"p":0.47},{"p":0.48},{"p":0.49},{"p":0.5},{"p":0.51},{"p":0.52},{"p":0.53},{"p":0.54},{"p":0.55},{"p":0.56},{"p":0.57},{"p":0.58},{"p":0.59},{"p":0.6},{"p":0.61},{"p":0.62},{"p":0.63},{"p":0.64},{"p":0.65},{"p":0.66},{"p":0.67},{"p":0.68},{"p":0.69},{"p":0.7},{"p":0.71},{"p":0.72},{"p":0.73},{"p":0.74},{"p":0.75},{"p":0.76},{"p":0.77},{"p":0.78},{"p":0.79},{"p":0.8},{"p":0.81},{"p":0.82},{"p":0.83},{"p":0.84},{"p":0.85},{"p":0.86},{"p":0.87},{"p":0.88},{"p":0.89},{"p":0.9},{"p":0.91},{"p":0.92},{"p":0.93},{"p":0.94},{"p":0.95},{"p":0.96},{"p":0.97},{"p":0.98},{"p":0.99}],
"cbticks":[{"p":0.3},{"p":0.4},{"p":0.5},{"p":0.6},{"p":0.7},{"p":0.8},{"p":0.9}],
"cblabels":[{"p":0.2,"label":"0.2"},{"p":0.3,"label":"0.3"},{"p":0.4,"label":"0.4"},{"p":0.5,"label":"0.5"},{"p":0.6,"label":"0.6"},{"p":0.7,"label":"0.7"},{"p":0.8,"label":"0.8"},{"p":0.9,"label":"0.9"},{"p":1,"label":"1"}]
},
"layer":[
{"data":{"name":"frame"},"transform":[{"calculate":"228+21.4*datum.k1+12.37*datum.k2","as":"sx"},{"calculate":"855+4.85*datum.k1-8.34*datum.k2-716*(datum.p-0.2)","as":"sy"},{"calculate":"228+21.4*datum.k1e+12.37*datum.k2e","as":"sxe"},{"calculate":"855+4.85*datum.k1e-8.34*datum.k2e-716*(datum.pe-0.2)","as":"sye"}],
"mark":{"type":"rule","color":"#231f20","strokeWidth":3.5,"strokeCap":"square"},
"encoding":{"x":{"field":"sx","type":"quantitative","scale":{"domain":[0,2212]},"axis":null},"x2":{"field":"sxe"},"y":{"field":"sy","type":"quantitative","scale":{"domain":[1201,0]},"axis":null},"y2":{"field":"sye"}}},
{"data":{"name":"surface"},"transform":[{"window":[{"op":"lead","field":"k2","as":"k2e"},{"op":"lead","field":"p","as":"pe"}],"sort":[{"field":"k2","order":"ascending"}],"groupby":["k1"],"frame":[null,null]},{"filter":"isValid(datum.pe)"},{"calculate":"228+21.4*datum.k1+12.37*datum.k2","as":"sx"},{"calculate":"855+4.85*datum.k1-8.34*datum.k2-716*(datum.p-0.2)","as":"sy"},{"calculate":"228+21.4*datum.k1+12.37*datum.k2e","as":"sxe"},{"calculate":"855+4.85*datum.k1-8.34*datum.k2e-716*(datum.pe-0.2)","as":"sye"},{"calculate":"(datum.p+datum.pe)/2","as":"pm"}],
"mark":{"type":"rule","strokeWidth":3.5,"strokeCap":"round"},
"encoding":{"x":{"field":"sx","type":"quantitative","scale":{"domain":[0,2212]},"axis":null},"x2":{"field":"sxe"},"y":{"field":"sy","type":"quantitative","scale":{"domain":[1201,0]},"axis":null},"y2":{"field":"sye"},
"color":{"field":"pm","type":"quantitative","scale":{"domain":[0.2,0.25,0.3,0.332,0.365,0.4,0.505,0.55,0.6,0.675,0.71,0.75,0.8,0.835,0.9,0.95,1],"range":["#bb1a8b","#7f2a8e","#5c2d91","#2e3192","#0b4b9c","#0072bc","#00aeef","#00adb5","#00a88f","#00a651","#50b848","#9bc93c","#d7df23","#fff200","#faa61a","#f47b20","#ee3124"],"clamp":true},"legend":null}}},
{"data":{"name":"cbcells"},"transform":[{"calculate":"591.4-605.5*(datum.p-0.2)","as":"cy"},{"calculate":"datum.cy-6.7","as":"cy2"},{"calculate":"datum.p+0.005","as":"pm"}],"mark":{"type":"rect"},"encoding":{"x":{"value":1949},"x2":{"value":2033.5},"y":{"field":"cy","type":"quantitative","scale":{"domain":[1201,0]},"axis":null},"y2":{"field":"cy2"},"color":{"field":"pm","type":"quantitative","scale":{"domain":[0.2,0.25,0.3,0.332,0.365,0.4,0.505,0.55,0.6,0.675,0.71,0.75,0.8,0.835,0.9,0.95,1],"range":["#bb1a8b","#7f2a8e","#5c2d91","#2e3192","#0b4b9c","#0072bc","#00aeef","#00adb5","#00a88f","#00a651","#50b848","#9bc93c","#d7df23","#fff200","#faa61a","#f47b20","#ee3124"],"clamp":true},"legend":null}}},
{"data":{"values":[{"p":0.2,"pe":1}]},"transform":[{"calculate":"591.4-605.5*(datum.p-0.2)","as":"cy"},{"calculate":"591.4-605.5*(datum.pe-0.2)","as":"cy2"}],"mark":{"type":"rect","fillOpacity":0,"stroke":"#231f20","strokeWidth":3.2},"encoding":{"x":{"value":1949},"x2":{"value":2033.5},"y":{"field":"cy","type":"quantitative","scale":{"domain":[1201,0]},"axis":null},"y2":{"field":"cy2"}}},
{"data":{"name":"cbticks"},"transform":[{"calculate":"591.4-605.5*(datum.p-0.2)","as":"cy"}],"mark":{"type":"rule","color":"#231f20","strokeWidth":3},"encoding":{"x":{"value":1949},"x2":{"value":1980},"y":{"field":"cy","type":"quantitative","scale":{"domain":[1201,0]},"axis":null}}},
{"data":{"name":"cbticks"},"transform":[{"calculate":"591.4-605.5*(datum.p-0.2)","as":"cy"}],"mark":{"type":"rule","color":"#231f20","strokeWidth":3},"encoding":{"x":{"value":2001},"x2":{"value":2033},"y":{"field":"cy","type":"quantitative","scale":{"domain":[1201,0]},"axis":null}}},
{"data":{"name":"cblabels"},"transform":[{"calculate":"591.4-605.5*(datum.p-0.2)","as":"cy"}],"mark":{"type":"text","fontSize":66,"align":"left","baseline":"middle"},"encoding":{"x":{"value":2095},"y":{"field":"cy","type":"quantitative","scale":{"domain":[1201,0]},"axis":null},"text":{"field":"label"}}},
{"data":{"name":"k1labels"},"transform":[{"calculate":"228+21.4*datum.k1+12.37*datum.k2","as":"sx"},{"calculate":"855+4.85*datum.k1-8.34*datum.k2-716*(datum.p-0.2)","as":"sy"}],"mark":{"type":"text","fontSize":66,"align":"center","baseline":"middle","dx":-17,"dy":33},"encoding":{"x":{"field":"sx","type":"quantitative","scale":{"domain":[0,2212]},"axis":null},"y":{"field":"sy","type":"quantitative","scale":{"domain":[1201,0]},"axis":null},"text":{"field":"label"}}},
{"data":{"name":"k2labels"},"transform":[{"calculate":"228+21.4*datum.k1+12.37*datum.k2","as":"sx"},{"calculate":"855+4.85*datum.k1-8.34*datum.k2-716*(datum.p-0.2)","as":"sy"}],"mark":{"type":"text","fontSize":66,"align":"left","baseline":"middle","dx":66,"dy":18},"encoding":{"x":{"field":"sx","type":"quantitative","scale":{"domain":[0,2212]},"axis":null},"y":{"field":"sy","type":"quantitative","scale":{"domain":[1201,0]},"axis":null},"text":{"field":"label"}}},
{"data":{"name":"plabels"},"transform":[{"calculate":"228+21.4*datum.k1+12.37*datum.k2","as":"sx"},{"calculate":"855+4.85*datum.k1-8.34*datum.k2-716*(datum.p-0.2)","as":"sy"}],"mark":{"type":"text","fontSize":66,"align":"right","baseline":"middle","dx":-66,"dy":0},"encoding":{"x":{"field":"sx","type":"quantitative","scale":{"domain":[0,2212]},"axis":null},"y":{"field":"sy","type":"quantitative","scale":{"domain":[1201,0]},"axis":null},"text":{"field":"label"}}},
{"data":{"values":[{"k1":0,"k2":0,"p":1,"label":"P"}]},"transform":[{"calculate":"228+21.4*datum.k1+12.37*datum.k2","as":"sx"},{"calculate":"855+4.85*datum.k1-8.34*datum.k2-716*(datum.p-0.2)","as":"sy"}],"mark":{"type":"text","fontSize":68,"fontStyle":"italic","align":"left","baseline":"alphabetic","dx":-176,"dy":-126},"encoding":{"x":{"field":"sx","type":"quantitative","scale":{"domain":[0,2212]},"axis":null},"y":{"field":"sy","type":"quantitative","scale":{"domain":[1201,0]},"axis":null},"text":{"field":"label"}}},
{"data":{"values":[{"k1":0,"k2":0,"p":1,"label":"block"}]},"transform":[{"calculate":"228+21.4*datum.k1+12.37*datum.k2","as":"sx"},{"calculate":"855+4.85*datum.k1-8.34*datum.k2-716*(datum.p-0.2)","as":"sy"}],"mark":{"type":"text","fontSize":56,"fontStyle":"italic","align":"left","baseline":"alphabetic","dx":-135,"dy":-104},"encoding":{"x":{"field":"sx","type":"quantitative","scale":{"domain":[0,2212]},"axis":null},"y":{"field":"sy","type":"quantitative","scale":{"domain":[1201,0]},"axis":null},"text":{"field":"label"}}},
{"data":{"values":[{"k1":25,"k2":0,"p":0.2,"label":"K"}]},"transform":[{"calculate":"228+21.4*datum.k1+12.37*datum.k2","as":"sx"},{"calculate":"855+4.85*datum.k1-8.34*datum.k2-716*(datum.p-0.2)","as":"sy"}],"mark":{"type":"text","fontSize":68,"fontStyle":"italic","align":"left","baseline":"alphabetic","dx":-243,"dy":155},"encoding":{"x":{"field":"sx","type":"quantitative","scale":{"domain":[0,2212]},"axis":null},"y":{"field":"sy","type":"quantitative","scale":{"domain":[1201,0]},"axis":null},"text":{"field":"label"}}},
{"data":{"values":[{"k1":25,"k2":0,"p":0.2,"label":"1"}]},"transform":[{"calculate":"228+21.4*datum.k1+12.37*datum.k2","as":"sx"},{"calculate":"855+4.85*datum.k1-8.34*datum.k2-716*(datum.p-0.2)","as":"sy"}],"mark":{"type":"text","fontSize":57,"align":"left","baseline":"alphabetic","dx":-193,"dy":177},"encoding":{"x":{"field":"sx","type":"quantitative","scale":{"domain":[0,2212]},"axis":null},"y":{"field":"sy","type":"quantitative","scale":{"domain":[1201,0]},"axis":null},"text":{"field":"label"}}},
{"data":{"values":[{"k1":50,"k2":25,"p":0.2,"label":"K"}]},"transform":[{"calculate":"228+21.4*datum.k1+12.37*datum.k2","as":"sx"},{"calculate":"855+4.85*datum.k1-8.34*datum.k2-716*(datum.p-0.2)","as":"sy"}],"mark":{"type":"text","fontSize":68,"fontStyle":"italic","align":"left","baseline":"alphabetic","dx":313,"dy":96},"encoding":{"x":{"field":"sx","type":"quantitative","scale":{"domain":[0,2212]},"axis":null},"y":{"field":"sy","type":"quantitative","scale":{"domain":[1201,0]},"axis":null},"text":{"field":"label"}}},
{"data":{"values":[{"k1":50,"k2":25,"p":0.2,"label":"2"}]},"transform":[{"calculate":"228+21.4*datum.k1+12.37*datum.k2","as":"sx"},{"calculate":"855+4.85*datum.k1-8.34*datum.k2-716*(datum.p-0.2)","as":"sy"}],"mark":{"type":"text","fontSize":57,"align":"left","baseline":"alphabetic","dx":364,"dy":118},"encoding":{"x":{"field":"sx","type":"quantitative","scale":{"domain":[0,2212]},"axis":null},"y":{"field":"sy","type":"quantitative","scale":{"domain":[1201,0]},"axis":null},"text":{"field":"label"}}}
]}
